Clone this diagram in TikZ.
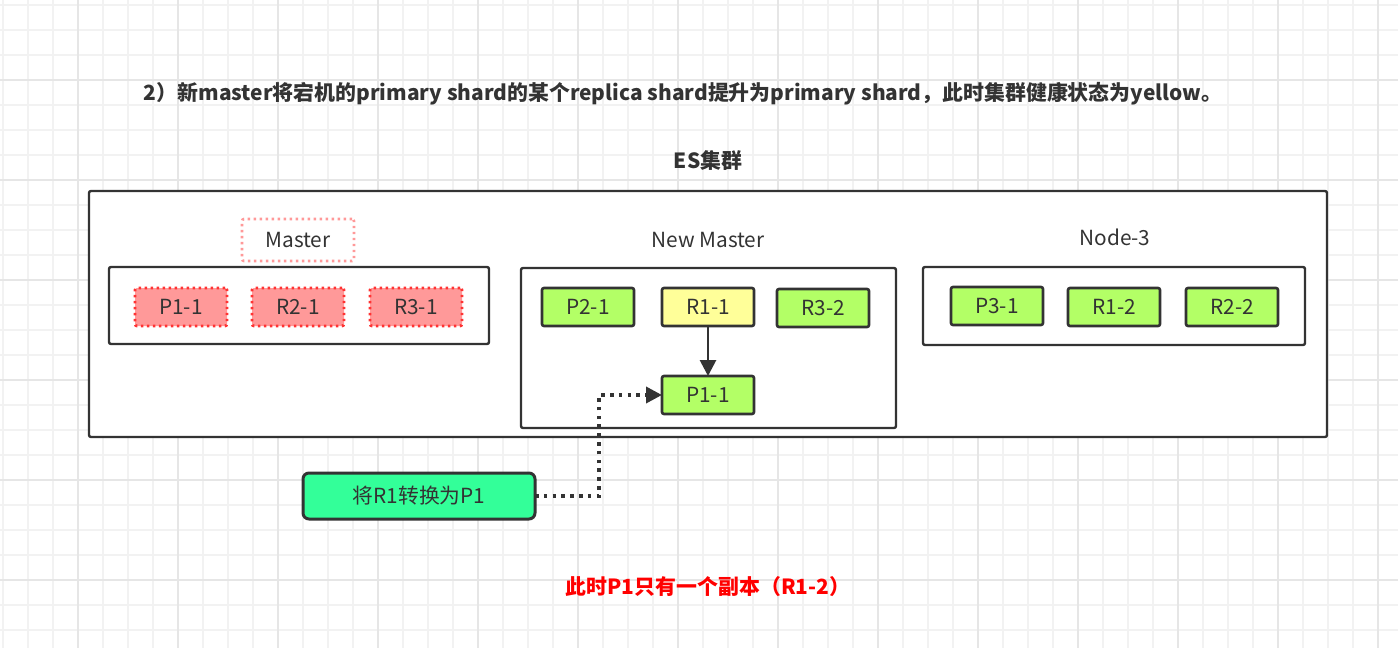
\documentclass[tikz,border=0pt]{standalone}
\usepackage{fontspec}
\setmainfont{Noto Sans CJK SC}
\usetikzlibrary{
    arrows.meta,
    calc,
    positioning
}
\definecolor{ink}{HTML}{333333}
\definecolor{shardgreen}{HTML}{B3FF66}
\definecolor{shardyellow}{HTML}{FFFF99}
\definecolor{lostfill}{HTML}{FF9999}
\definecolor{loststroke}{HTML}{FF3333}
\definecolor{actiongreen}{HTML}{33FF99}
\definecolor{gridminor}{HTML}{F2F2F2}
\definecolor{gridmajor}{HTML}{E6E6E6}
\tikzset{
    every picture/.style = {
        > = {Triangle[length = 8pt, width = 8pt]},
        x = 0.5pt,
        y = -0.5pt
    },
    every node/.style = {
        inner sep = 1pt,
        outer sep = 0pt,
        text = ink,
        align = center,
        font = \fontsize{10.4pt}{12pt}\selectfont
    },
    nodebox/.style = {
        draw = ink,
        line width = 1.2pt,
        rounded corners = 1pt
    },
    shard/.style = {
        draw = ink,
        line width = 1.3pt,
        fill = shardgreen,
        rounded corners = 1pt,
        minimum width = 46pt,
        minimum height = 19pt
    },
    lostshard/.style = {
        shard,
        draw = loststroke,
        fill = lostfill,
        line width = 1.4pt,
        dash pattern = on 1.2pt off 1.8pt
    },
    titletext/.style = {
        font = \fontsize{10.45pt}{12pt}\selectfont\bfseries
    },
    dots/.style = {
        line width = 1.8pt,
        dash pattern = on 1.8pt off 2.6pt
    }
}

\begin{document}
\begin{tikzpicture}
    \useasboundingbox (0,0) rectangle (1398,648);
    % background grid
    \foreach \x in {3,28,...,1398}
        \draw[gridminor, line width = 0.6pt] (\x,0) -- (\x,648);
    \foreach \y in {5,30,...,648}
        \draw[gridminor, line width = 0.6pt] (0,\y) -- (1398,\y);
    \foreach \x in {78,178,...,1398}
        \draw[gridmajor, line width = 0.7pt] (\x,0) -- (\x,648);
    \foreach \y in {80,180,...,648}
        \draw[gridmajor, line width = 0.7pt] (0,\y) -- (1398,\y);

    % titles
    \node[titletext] (title) at (683,94) {2）新master将宕机的primary shard的某个replica shard提升为primary shard，此时集群健康状态为yellow。};
    \node[titletext] (cluster) at (708,160) {ES集群};
    \draw[nodebox, fill = white] (89,191) rectangle (1327,437);

    % old master (down)
    \node[draw = lostfill, line width = 1.3pt, dash pattern = on 1.2pt off 1.8pt, rounded corners = 1pt,
          minimum width = 56pt, minimum height = 21pt] (mastertag) at (298,240) {Master};
    \draw[nodebox] (109,267) rectangle (489,344);
    \node[lostshard] (oldp11) at (181,307) {P1-1};
    \node[lostshard] (r21) at (298,307) {R2-1};
    \node[lostshard] (r31) at (416,307) {R3-1};

    % new master
    \node (newmaster) at (708,240) {New Master};
    \draw[nodebox] (521,268) rectangle (896,428);
    \node[shard] (p21) at (588,307) {P2-1};
    \node[shard, fill = shardyellow] (r11) at (708,307) {R1-1};
    \node[shard] (r32) at (823,308) {R3-2};
    \node[shard] (p11) at (708,395) {P1-1};

    % node 3
    \node (node3) at (1115,237) {Node-3};
    \draw[nodebox] (923,267) rectangle (1305,345);
    \node[shard] (p31) at (997,306) {P3-1};
    \node[shard] (r12) at (1114,307) {R1-2};
    \node[shard] (r22) at (1232,307) {R2-2};

    % promotion
    \node[draw = ink, line width = 1.5pt, fill = actiongreen, rounded corners = 3pt,
          minimum width = 116pt, minimum height = 23pt] (promote) at (419,496) {将R1转换为P1};
    \draw[->, ink, line width = 1.4pt] (r11) -- (p11);
    \draw[->, ink, dots] (promote.east) -| (599,395) -- (p11.west);

    \node[titletext, text = red] (note) at (708,587) {此时P1只有一个副本（R1-2）};
\end{tikzpicture}
\end{document}
